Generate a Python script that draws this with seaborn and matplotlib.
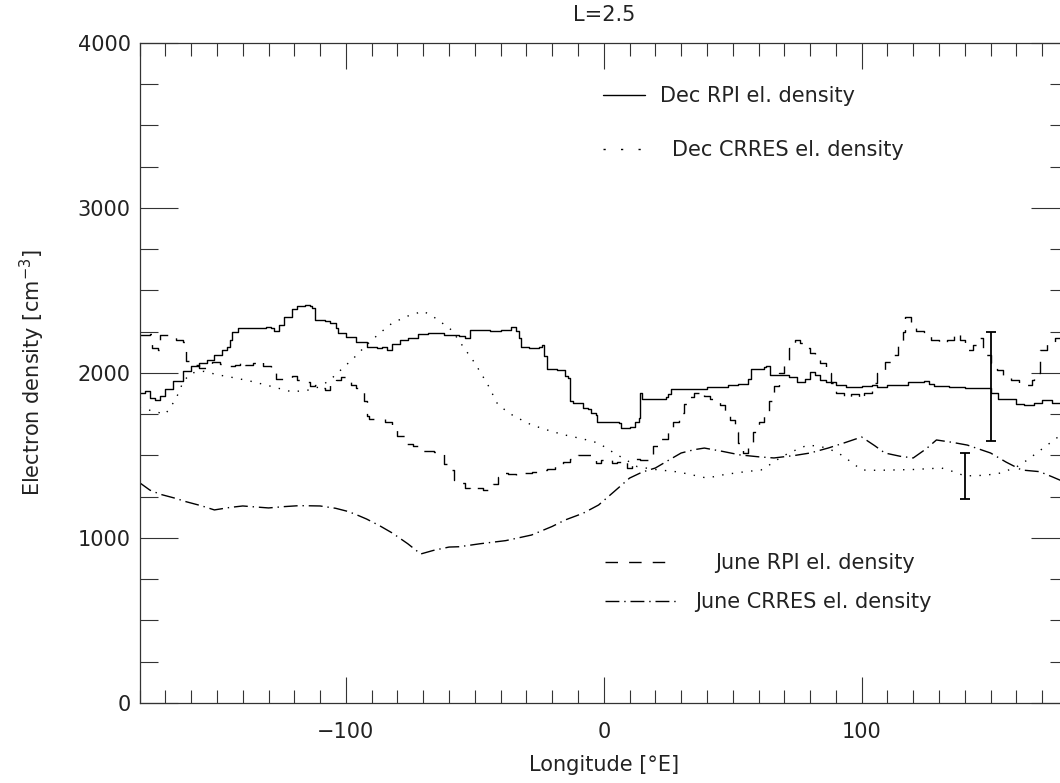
import matplotlib
matplotlib.use("Agg")
import matplotlib.pyplot as plt
from matplotlib.ticker import MultipleLocator
from matplotlib.lines import Line2D
from matplotlib.legend import Legend
import seaborn as sns

# ---------------- data ----------------
dec_rpi_lon = [-180, -178, -176, -174, -172, -170, -167, -163, -160, -157, -154, -151, -148, -146, -145,
               -144, -142, -136, -131, -129, -128, -126, -124, -121, -119, -116, -114, -113, -112, -108,
               -106, -104, -103, -100, -96, -92, -88, -86, -84, -82, -79, -76, -72, -68, -62, -56, -54,
               -52, -48, -44, -40, -36, -34, -33, -32, -29, -25, -24, -23, -22, -18, -15, -14, -13, -12,
               -8, -6, -5, -3, -2.5, 1, 6, 6.5, 10, 12, 13.5, 14, 14.5, 15, 20, 24, 25, 26, 32, 40, 48,
               52, 56, 57, 62, 63, 64.5, 68, 72, 75, 78, 80, 82, 84, 86, 90, 94, 100, 104, 106, 110, 118,
               124, 126, 128, 134, 140, 146, 150, 153, 160, 163, 167, 170, 174, 180]
dec_rpi_val = [1880, 1890, 1850, 1835, 1860, 1900, 1950, 2010, 2040, 2060, 2080, 2110, 2140, 2160, 2200,
               2250, 2270, 2270, 2280, 2270, 2255, 2290, 2340, 2390, 2405, 2415, 2405, 2395, 2320, 2315,
               2300, 2270, 2240, 2220, 2185, 2160, 2150, 2155, 2140, 2175, 2200, 2215, 2235, 2240, 2230,
               2222, 2215, 2260, 2262, 2255, 2262, 2280, 2255, 2215, 2160, 2150, 2155, 2170, 2100, 2025,
               2020, 1980, 1970, 1830, 1820, 1790, 1780, 1760, 1745, 1700, 1700, 1695, 1665, 1672, 1700,
               1725, 1880, 1880, 1840, 1845, 1852, 1870, 1900, 1905, 1915, 1925, 1935, 1962, 2025, 2035,
               2040, 1990, 1985, 1975, 1945, 1965, 2005, 1985, 1960, 1945, 1925, 1918, 1920, 1925, 1915,
               1930, 1945, 1950, 1935, 1920, 1915, 1910, 1912, 1880, 1845, 1815, 1805, 1820, 1835, 1820,
               1800]

dec_crres_lon = [-180, -175, -170, -166, -163, -160, -155, -150, -143, -136, -128, -121, -115, -110, -106,
                 -102, -97, -92, -87, -82, -76, -70, -65, -59, -55, -50, -45, -41, -35, -28, -20, -15, -8,
                 -2, 4, 9, 13, 20, 29, 35, 40, 47, 55, 61, 65, 69, 74, 79, 84, 88, 91, 96, 100, 106, 112,
                 120, 131, 136, 140, 148, 154, 160, 164, 170, 176, 180]
dec_crres_val = [1790, 1770, 1750, 1840, 1950, 2000, 2010, 1990, 1970, 1947, 1915, 1886, 1895, 1917, 1960,
                 2018, 2090, 2170, 2240, 2303, 2345, 2375, 2330, 2260, 2170, 2060, 1930, 1806, 1740, 1685,
                 1645, 1624, 1600, 1575, 1515, 1470, 1432, 1415, 1400, 1380, 1363, 1385, 1402, 1412, 1450,
                 1493, 1530, 1563, 1555, 1535, 1515, 1460, 1412, 1410, 1412, 1415, 1424, 1400, 1376, 1380,
                 1394, 1430, 1470, 1540, 1610, 1640]

june_rpi_lon = [-180, -176, -175, -173, -172, -168, -166, -163, -162, -159, -157, -154, -152, -149, -146,
                -143, -141, -139, -136, -134, -132, -129, -127, -124, -121, -119, -116, -114, -112, -110,
                -108, -106, -104, -102, -100, -98, -96, -94, -93, -92, -91, -88, -85, -82, -80, -77, -74,
                -70, -66, -63, -62, -60, -58, -55, -54, -52, -49, -47, -45, -43, -41, -39, -37, -34, -31,
                -28, -25, -22, -19, -16, -13, -10, -7, -5, -3, -1, 1, 3, 5, 7, 9, 11, 14, 17, 19, 22, 25,
                27, 29, 31, 33, 35, 37, 39, 41, 43, 45, 47, 49, 51, 52, 54, 56, 58, 60, 62, 64, 66, 68, 70,
                72, 74, 76, 78, 80, 82, 84, 86, 88, 90, 93, 96, 99, 101, 104, 106, 109, 112, 114, 116, 117,
                119, 121, 124, 127, 130, 133, 136, 138, 140, 143, 145, 147, 150, 152.5, 155, 158, 161, 164,
                166, 167, 169, 172, 175, 180]
june_rpi_val = [2230, 2235, 2150, 2140, 2230, 2225, 2200, 2190, 2070, 2050, 2030, 2040, 2065, 2055, 2040,
                2050, 2075, 2050, 2060, 2075, 2040, 2000, 1965, 1970, 1980, 1960, 1945, 1920, 1928, 1910,
                1895, 1930, 1960, 1975, 1960, 1930, 1910, 1900, 1830, 1740, 1720, 1720, 1705, 1655, 1620,
                1570, 1560, 1530, 1520, 1515, 1450, 1410, 1350, 1335, 1300, 1290, 1305, 1290, 1310, 1330,
                1370, 1395, 1385, 1380, 1395, 1400, 1410, 1420, 1445, 1460, 1480, 1500, 1505, 1480, 1455,
                1470, 1480, 1455, 1460, 1470, 1425, 1480, 1475, 1500, 1560, 1600, 1655, 1700, 1760, 1810,
                1855, 1880, 1890, 1860, 1840, 1830, 1806, 1770, 1715, 1640, 1575, 1515, 1560, 1640, 1700,
                1760, 1830, 1920, 2000, 2060, 2150, 2200, 2180, 2150, 2120, 2090, 2060, 2000, 1940, 1880,
                1850, 1870, 1840, 1880, 1940, 2000, 2068, 2110, 2169, 2250, 2340, 2300, 2255, 2230, 2200,
                2180, 2200, 2240, 2200, 2140, 2170, 2210, 2110, 2060, 2018, 1980, 1960, 1940, 1930, 1960,
                2000, 2139, 2180, 2212, 2250]

june_crres_lon = [-180, -176, -172, -166, -162, -156, -151, -145, -140, -135, -130, -124, -118, -110, -104,
                  -99, -95, -92, -87, -82, -76, -71, -66, -60, -56, -48, -38, -28, -20, -15, -8, -2, 4, 10,
                  15, 20, 25, 30, 35, 39, 46, 53, 60, 66, 74, 80, 87, 93, 100, 105, 109, 115, 120, 125, 129,
                  135, 141, 150, 156, 162, 169, 174, 180]
june_crres_val = [1335, 1290, 1265, 1240, 1220, 1195, 1170, 1185, 1194, 1188, 1182, 1190, 1196, 1194, 1180,
                  1160, 1135, 1115, 1075, 1030, 965, 903, 925, 945, 947, 965, 984, 1018, 1070, 1109, 1150,
                  1200, 1281, 1363, 1400, 1424, 1470, 1515, 1535, 1545, 1525, 1503, 1492, 1485, 1500, 1515,
                  1545, 1575, 1612, 1560, 1515, 1495, 1485, 1540, 1594, 1580, 1563, 1515, 1460, 1412, 1402,
                  1370, 1330]

err_lon = [150.3, 140.2]
err_center = [1917, 1376]
err_half = [329, 140]

legend_labels = ["Dec RPI el. density", "Dec CRRES el. density",
                 "June RPI el. density", "June CRRES el. density"]

# ---------------- styling ----------------
sns.set_style("white")
plt.rcParams['font.family'] = ['DejaVu Sans']
plt.rcParams['mathtext.fontset'] = 'dejavusans'
FS = 15
TXT = '#222222'

fig = plt.figure(figsize=(10.6, 7.83), dpi=100)
ax = fig.add_axes([0.1317, 0.1022, 0.8758, 0.8429])

LW = 1.0
DOT = (0, (1.0, 6.0))
DASH = (0, (9.0, 8.0))
DASHDOT = (0, (10.0, 3.5, 1.0, 3.5))

sns.lineplot(x=dec_rpi_lon, y=dec_rpi_val, ax=ax, color='black', lw=LW,
             drawstyle='steps-post', estimator=None, sort=False)
sns.lineplot(x=dec_crres_lon, y=dec_crres_val, ax=ax, color='black', lw=LW,
             linestyle=DOT, estimator=None, sort=False)
sns.lineplot(x=june_rpi_lon, y=june_rpi_val, ax=ax, color='black', lw=LW,
             linestyle=DASH, drawstyle='steps-post', estimator=None, sort=False)
sns.lineplot(x=june_crres_lon, y=june_crres_val, ax=ax, color='black', lw=LW,
             linestyle=DASHDOT, estimator=None, sort=False)

ax.errorbar(err_lon, err_center, yerr=err_half, fmt='none', ecolor='black',
            elinewidth=1.3, capsize=3.8, capthick=1.3)

ax.set_xlim(-180, 180)
ax.set_ylim(0, 4000)
ax.xaxis.set_major_locator(MultipleLocator(100))
ax.xaxis.set_minor_locator(MultipleLocator(10))
ax.yaxis.set_major_locator(MultipleLocator(1000))
ax.yaxis.set_minor_locator(MultipleLocator(250))

ax.tick_params(axis='x', which='major', direction='in', length=19, width=0.8,
               top=True, bottom=True, pad=14, labelsize=FS, labelcolor=TXT, color='#333333')
ax.tick_params(axis='x', which='minor', direction='in', length=9.5, width=0.8,
               top=True, bottom=True, color='#333333')
ax.tick_params(axis='y', which='major', direction='in', length=27, width=0.8,
               left=True, right=True, pad=6.5, labelsize=FS, labelcolor=TXT, color='#333333')
ax.tick_params(axis='y', which='minor', direction='in', length=13, width=0.8,
               left=True, right=True, color='#333333')

for s in ax.spines.values():
    s.set_linewidth(0.9)
    s.set_color('#333333')

ax.set_title("L=2.5", fontsize=FS, color=TXT, pad=16)
ax.set_xlabel("Longitude [°E]", fontsize=FS, color=TXT, labelpad=9)
ax.set_ylabel("Electron density [cm$^{-3}$]", fontsize=FS, color=TXT, labelpad=22)

# one legend per row, to place each key like the reference
rows = [
    # style, x(axes frac), y(axes frac), handlelength, handletextpad
    ('-', 0.4995, 1 - (96 - 43) / 660, 2.02, 0.72),
    ((0, (1.6, 11.0)), 0.4995, 1 - (150 - 43) / 660, 2.3, 1.0),
    (DASH, 0.5017, 1 - (563 - 43) / 660, 3.26, 2.0),
    (DASHDOT, 0.5017, 1 - (602 - 43) / 660, 3.46, 0.86),
]
for (ls, lx, ly, hl, htp), lab in zip(rows, legend_labels):
    proxy = Line2D([], [], color='black', lw=LW, linestyle=ls)
    lg = Legend(ax, [proxy], [lab], loc='center left',
                bbox_to_anchor=(lx, ly), frameon=False, fontsize=FS,
                handlelength=hl, handletextpad=htp,
                borderpad=0, borderaxespad=0)
    for t in lg.get_texts():
        t.set_color(TXT)
    ax.add_artist(lg)

fig.savefig("out.png", dpi=100)
